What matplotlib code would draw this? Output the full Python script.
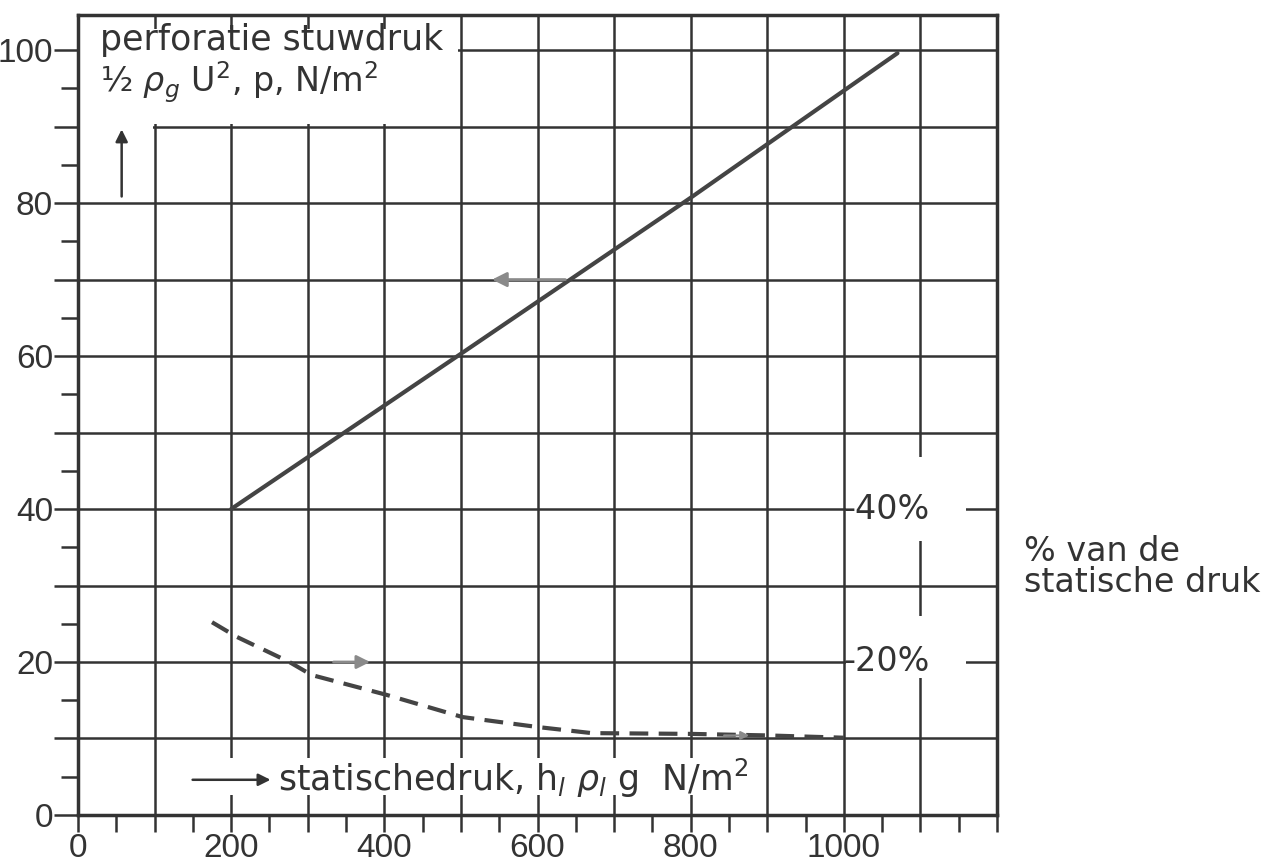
import numpy as np
import matplotlib.pyplot as plt
from matplotlib.patches import Rectangle

# perforatie stuwdruk (doorgetrokken lijn), N/m2
stuw_x = [200, 500, 800, 1070]
stuw_y = [40.0, 60.3, 80.7, 99.6]

# % van de statische druk (gestreepte lijn)
stat_x = [175, 207, 276, 305, 403, 502, 600, 671, 800, 900, 1000]
stat_y = [25.2, 23.3, 20.0, 18.3, 15.7, 12.8, 11.5, 10.7, 10.6, 10.4, 10.1]

xticks = [0, 200, 400, 600, 800, 1000]
yticks = [0, 20, 40, 60, 80, 100]
pct_levels = [40, 20]
pct_labels = ['-40%', '-20%']

ink = '#333333'
grey = '#8a8a8a'
tickfont = ['Liberation Sans', 'DejaVu Sans']

fig = plt.figure(figsize=(12.83, 8.68), dpi=100)
ax = fig.add_axes([0.0608, 0.0611, 0.7163, 0.9217])
ax.set_xlim(0, 1200)
ax.set_ylim(0, 104.6)

# grid (raster papier)
ax.set_xticks(np.arange(0, 1201, 100))
ax.set_yticks(np.arange(0, 105, 10))
ax.grid(True, color=ink, lw=1.8, zorder=0.5)
ax.set_axisbelow(True)
ax.set_xticks(np.arange(0, 1151, 50), minor=True)
ax.set_yticks(np.arange(0, 101, 5), minor=True)
ax.set_xticklabels([str(v) if v in xticks else '' for v in range(0, 1201, 100)])
ax.set_yticklabels([str(v) if v in yticks else '' for v in range(0, 101, 10)])
ax.tick_params(which='both', direction='out', width=1.8, color=ink,
               labelsize=24, labelcolor=ink)
ax.tick_params(axis='x', which='both', length=12, pad=1)
ax.tick_params(axis='y', which='major', length=17, pad=1)
ax.tick_params(axis='y', which='minor', length=12)
for lab in ax.get_xticklabels() + ax.get_yticklabels():
    lab.set_family(tickfont)
for s in ax.spines.values():
    s.set_linewidth(2.5)
    s.set_color(ink)

# witte vlakken waar het raster onderbroken is
blanks = [(0.5, 90.4, 496, 12.3), (0.5, 88.5, 97, 2.3), (135, 2.6, 750, 4.9),
          (1003, 35.8, 157, 11.0), (1003, 17.9, 157, 8.1)]
for bx, by, bw, bh in blanks:
    ax.add_patch(Rectangle((bx, by), bw, bh, facecolor='white', edgecolor='none', zorder=1))

ax.plot(stuw_x, stuw_y, color='#444444', lw=3, solid_capstyle='round', zorder=3)
ax.plot(stat_x, stat_y, color='#444444', lw=3, dashes=(4.5, 2.5), zorder=3)

# pijltjes
ax.annotate('', xy=(537, 70), xytext=(640, 70),
            arrowprops=dict(arrowstyle='-|>', color=grey, lw=2, mutation_scale=22), zorder=4)
ax.annotate('', xy=(385, 20), xytext=(330, 20),
            arrowprops=dict(arrowstyle='-|>', color=grey, lw=2, mutation_scale=20), zorder=4)
ax.annotate('', xy=(880, 10.4), xytext=(840, 10.4),
            arrowprops=dict(arrowstyle='-|>', color=grey, lw=1.5, mutation_scale=12), zorder=4)
ax.annotate('', xy=(255, 4.6), xytext=(146, 4.6),
            arrowprops=dict(arrowstyle='-|>', color=ink, lw=1.8, mutation_scale=18), zorder=4)
ax.annotate('', xy=(57, 90), xytext=(57, 80.5),
            arrowprops=dict(arrowstyle='-|>', color=ink, lw=1.8, mutation_scale=18), zorder=4)

ax.text(29, 101.3, 'perforatie stuwdruk', fontsize=25, color=ink, va='center', zorder=5)
ax.text(29, 95.8, r'½ $\rho_g$ U$^2$, p, N/m$^2$', fontsize=24, color=ink, va='center', zorder=5)
ax.text(261, 4.8, r'statischedruk, h$_l$ $\rho_l$ g  N/m$^2$', fontsize=25, color=ink,
        va='center', zorder=5)

for lvl, lab in zip(pct_levels, pct_labels):
    ax.text(1000, lvl, lab, fontsize=24, color=ink, va='center', ha='left', zorder=5)

fig.text(0.798, 0.347, '% van de\nstatische druk', fontsize=24, color=ink,
         va='center', ha='left', linespacing=0.9)

fig.savefig('out.png', dpi=100)
